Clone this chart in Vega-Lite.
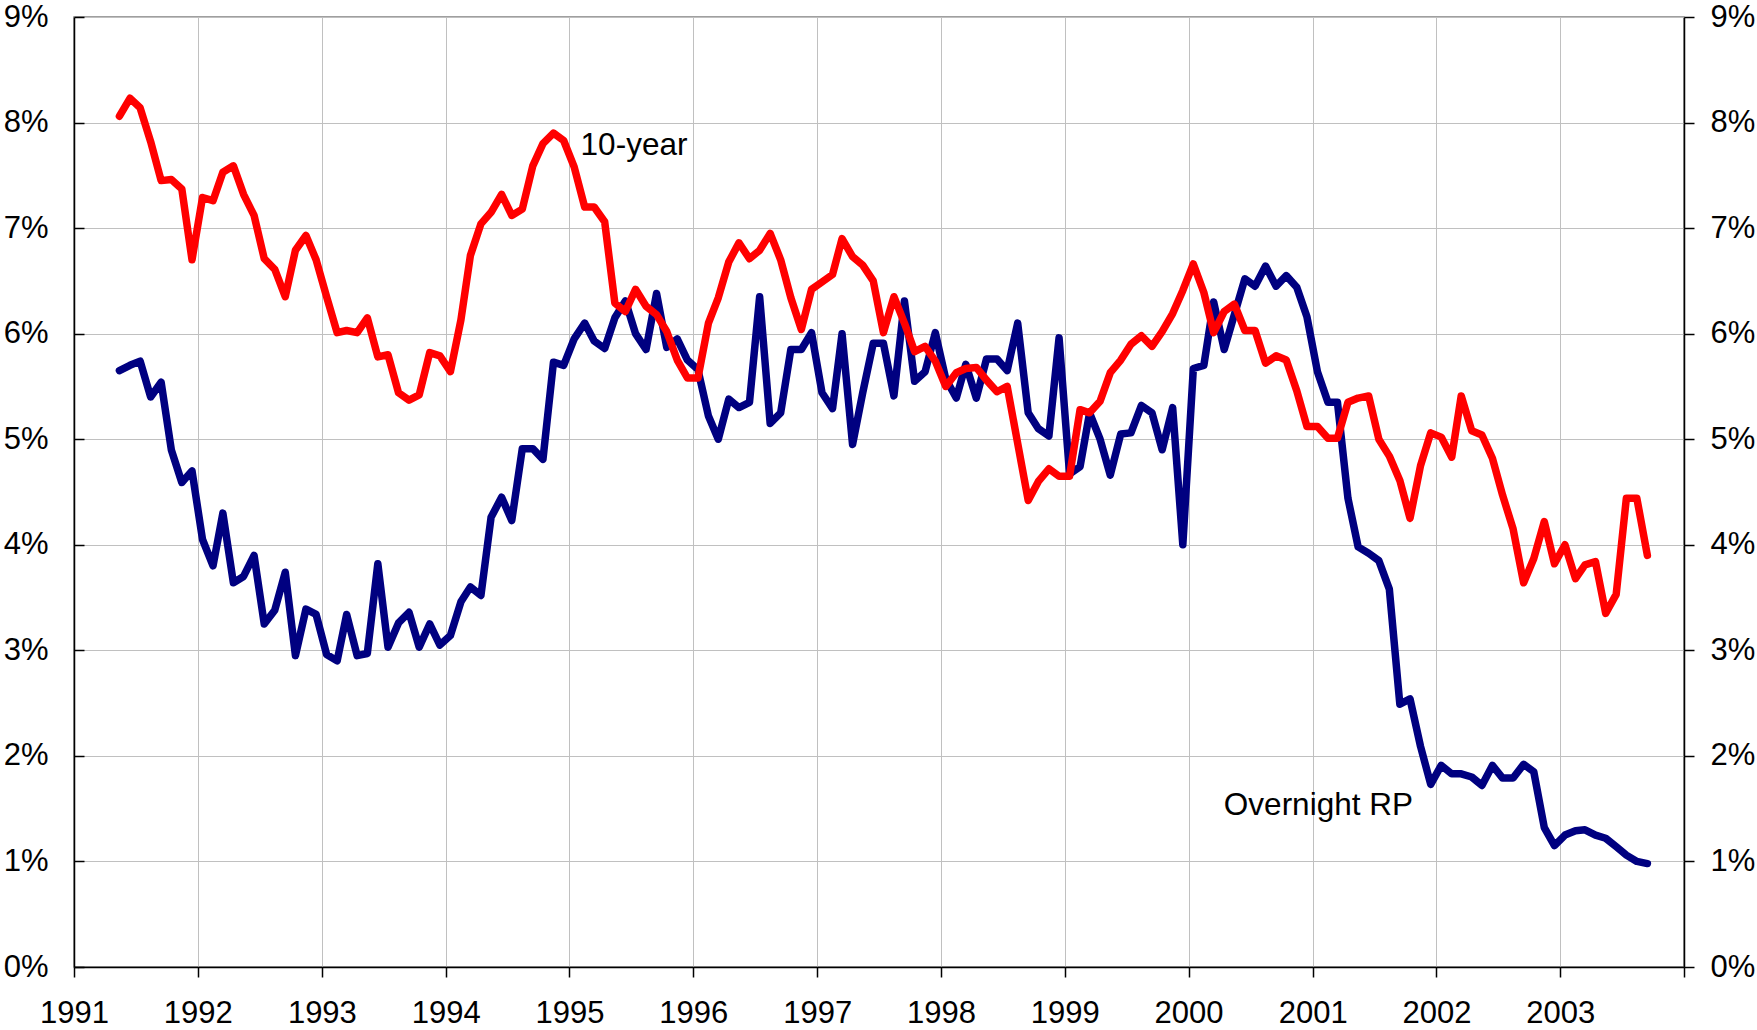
{
  "$schema": "https://vega.github.io/schema/vega-lite/v6.json",
  "width": 1610,
  "height": 950,
  "autosize": {"type": "none"},
  "padding": {"left": 74, "top": 17, "right": 73, "bottom": 63},
  "background": "#ffffff",
  "config": {
    "font": "Liberation Sans",
    "view": {"stroke": "#808080", "strokeWidth": 1.5},
    "axis": {
      "labelFont": "Liberation Sans",
      "labelFontSize": 31,
      "labelColor": "#000000",
      "domainColor": "#000000",
      "domainWidth": 1.5,
      "tickColor": "#000000",
      "tickWidth": 1.5,
      "gridColor": "#C0C0C0",
      "gridWidth": 1,
      "labelFlush": false,
      "labelOverlap": false,
      "title": null
    }
  },
  "datasets": {
    "rates": [
      {"d":"1991-05-15","y10":8.06,"rp":5.65},
      {"d":"1991-06-15","y10":8.23,"rp":5.70},
      {"d":"1991-07-15","y10":8.14,"rp":5.74},
      {"d":"1991-08-15","y10":7.82,"rp":5.40},
      {"d":"1991-09-15","y10":7.45,"rp":5.54},
      {"d":"1991-10-15","y10":7.46,"rp":4.90},
      {"d":"1991-11-15","y10":7.37,"rp":4.59},
      {"d":"1991-12-15","y10":6.70,"rp":4.70},
      {"d":"1992-01-15","y10":7.29,"rp":4.05},
      {"d":"1992-02-15","y10":7.26,"rp":3.80},
      {"d":"1992-03-15","y10":7.53,"rp":4.30},
      {"d":"1992-04-15","y10":7.59,"rp":3.64},
      {"d":"1992-05-15","y10":7.32,"rp":3.70},
      {"d":"1992-06-15","y10":7.12,"rp":3.90},
      {"d":"1992-07-15","y10":6.71,"rp":3.25},
      {"d":"1992-08-15","y10":6.61,"rp":3.38},
      {"d":"1992-09-15","y10":6.35,"rp":3.74},
      {"d":"1992-10-15","y10":6.79,"rp":2.95},
      {"d":"1992-11-15","y10":6.93,"rp":3.39},
      {"d":"1992-12-15","y10":6.70,"rp":3.34},
      {"d":"1993-01-15","y10":6.35,"rp":2.96},
      {"d":"1993-02-15","y10":6.01,"rp":2.90},
      {"d":"1993-03-15","y10":6.03,"rp":3.34},
      {"d":"1993-04-15","y10":6.01,"rp":2.95},
      {"d":"1993-05-15","y10":6.15,"rp":2.97},
      {"d":"1993-06-15","y10":5.78,"rp":3.82},
      {"d":"1993-07-15","y10":5.80,"rp":3.03},
      {"d":"1993-08-15","y10":5.44,"rp":3.26},
      {"d":"1993-09-15","y10":5.37,"rp":3.36},
      {"d":"1993-10-15","y10":5.42,"rp":3.03},
      {"d":"1993-11-15","y10":5.82,"rp":3.25},
      {"d":"1993-12-15","y10":5.79,"rp":3.05},
      {"d":"1994-01-15","y10":5.64,"rp":3.14},
      {"d":"1994-02-15","y10":6.13,"rp":3.46},
      {"d":"1994-03-15","y10":6.74,"rp":3.60},
      {"d":"1994-04-15","y10":7.04,"rp":3.52},
      {"d":"1994-05-15","y10":7.15,"rp":4.26},
      {"d":"1994-06-15","y10":7.32,"rp":4.45},
      {"d":"1994-07-15","y10":7.12,"rp":4.23},
      {"d":"1994-08-15","y10":7.18,"rp":4.91},
      {"d":"1994-09-15","y10":7.59,"rp":4.91},
      {"d":"1994-10-15","y10":7.80,"rp":4.81},
      {"d":"1994-11-15","y10":7.90,"rp":5.73},
      {"d":"1994-12-15","y10":7.83,"rp":5.70},
      {"d":"1995-01-15","y10":7.58,"rp":5.95},
      {"d":"1995-02-15","y10":7.20,"rp":6.10},
      {"d":"1995-03-15","y10":7.20,"rp":5.93},
      {"d":"1995-04-15","y10":7.06,"rp":5.86},
      {"d":"1995-05-15","y10":6.29,"rp":6.15},
      {"d":"1995-06-15","y10":6.21,"rp":6.31},
      {"d":"1995-07-15","y10":6.42,"rp":6.00},
      {"d":"1995-08-15","y10":6.26,"rp":5.85},
      {"d":"1995-09-15","y10":6.18,"rp":6.38},
      {"d":"1995-10-15","y10":6.02,"rp":5.87},
      {"d":"1995-11-15","y10":5.75,"rp":5.95},
      {"d":"1995-12-15","y10":5.58,"rp":5.75},
      {"d":"1996-01-15","y10":5.58,"rp":5.66},
      {"d":"1996-02-15","y10":6.10,"rp":5.22},
      {"d":"1996-03-15","y10":6.34,"rp":5.00},
      {"d":"1996-04-15","y10":6.68,"rp":5.38},
      {"d":"1996-05-15","y10":6.86,"rp":5.30},
      {"d":"1996-06-15","y10":6.71,"rp":5.35},
      {"d":"1996-07-15","y10":6.79,"rp":6.35},
      {"d":"1996-08-15","y10":6.95,"rp":5.15},
      {"d":"1996-09-15","y10":6.70,"rp":5.25},
      {"d":"1996-10-15","y10":6.34,"rp":5.85},
      {"d":"1996-11-15","y10":6.04,"rp":5.85},
      {"d":"1996-12-15","y10":6.42,"rp":6.01},
      {"d":"1997-01-15","y10":6.49,"rp":5.44},
      {"d":"1997-02-15","y10":6.56,"rp":5.29},
      {"d":"1997-03-15","y10":6.90,"rp":6.00},
      {"d":"1997-04-15","y10":6.73,"rp":4.95},
      {"d":"1997-05-15","y10":6.65,"rp":5.44},
      {"d":"1997-06-15","y10":6.50,"rp":5.91},
      {"d":"1997-07-15","y10":6.01,"rp":5.91},
      {"d":"1997-08-15","y10":6.35,"rp":5.41},
      {"d":"1997-09-15","y10":6.10,"rp":6.31},
      {"d":"1997-10-15","y10":5.83,"rp":5.55},
      {"d":"1997-11-15","y10":5.88,"rp":5.64},
      {"d":"1997-12-15","y10":5.74,"rp":6.01},
      {"d":"1998-01-15","y10":5.50,"rp":5.57},
      {"d":"1998-02-15","y10":5.63,"rp":5.39},
      {"d":"1998-03-15","y10":5.67,"rp":5.71},
      {"d":"1998-04-15","y10":5.68,"rp":5.39},
      {"d":"1998-05-15","y10":5.56,"rp":5.76},
      {"d":"1998-06-15","y10":5.45,"rp":5.76},
      {"d":"1998-07-15","y10":5.50,"rp":5.65},
      {"d":"1998-08-15","y10":4.96,"rp":6.10},
      {"d":"1998-09-15","y10":4.42,"rp":5.25},
      {"d":"1998-10-15","y10":4.60,"rp":5.10},
      {"d":"1998-11-15","y10":4.72,"rp":5.03},
      {"d":"1998-12-15","y10":4.65,"rp":5.96},
      {"d":"1999-01-15","y10":4.65,"rp":4.67},
      {"d":"1999-02-15","y10":5.28,"rp":4.74},
      {"d":"1999-03-15","y10":5.25,"rp":5.25},
      {"d":"1999-04-15","y10":5.36,"rp":5.00},
      {"d":"1999-05-15","y10":5.63,"rp":4.66},
      {"d":"1999-06-15","y10":5.75,"rp":5.05},
      {"d":"1999-07-15","y10":5.90,"rp":5.06},
      {"d":"1999-08-15","y10":5.98,"rp":5.32},
      {"d":"1999-09-15","y10":5.88,"rp":5.25},
      {"d":"1999-10-15","y10":6.02,"rp":4.90},
      {"d":"1999-11-15","y10":6.19,"rp":5.30},
      {"d":"1999-12-15","y10":6.41,"rp":4.00},
      {"d":"2000-01-15","y10":6.66,"rp":5.67},
      {"d":"2000-02-15","y10":6.39,"rp":5.70},
      {"d":"2000-03-15","y10":6.01,"rp":6.30},
      {"d":"2000-04-15","y10":6.21,"rp":5.85},
      {"d":"2000-05-15","y10":6.28,"rp":6.18},
      {"d":"2000-06-15","y10":6.03,"rp":6.52},
      {"d":"2000-07-15","y10":6.03,"rp":6.45},
      {"d":"2000-08-15","y10":5.72,"rp":6.64},
      {"d":"2000-09-15","y10":5.79,"rp":6.45},
      {"d":"2000-10-15","y10":5.75,"rp":6.55},
      {"d":"2000-11-15","y10":5.46,"rp":6.44},
      {"d":"2000-12-15","y10":5.12,"rp":6.16},
      {"d":"2001-01-15","y10":5.12,"rp":5.64},
      {"d":"2001-02-15","y10":5.01,"rp":5.35},
      {"d":"2001-03-15","y10":5.01,"rp":5.35},
      {"d":"2001-04-15","y10":5.35,"rp":4.44},
      {"d":"2001-05-15","y10":5.39,"rp":3.98},
      {"d":"2001-06-15","y10":5.41,"rp":3.92},
      {"d":"2001-07-15","y10":5.00,"rp":3.85},
      {"d":"2001-08-15","y10":4.84,"rp":3.58},
      {"d":"2001-09-15","y10":4.61,"rp":2.49},
      {"d":"2001-10-15","y10":4.25,"rp":2.54},
      {"d":"2001-11-15","y10":4.75,"rp":2.09},
      {"d":"2001-12-15","y10":5.06,"rp":1.73},
      {"d":"2002-01-15","y10":5.02,"rp":1.91},
      {"d":"2002-02-15","y10":4.83,"rp":1.83},
      {"d":"2002-03-15","y10":5.41,"rp":1.83},
      {"d":"2002-04-15","y10":5.08,"rp":1.80},
      {"d":"2002-05-15","y10":5.04,"rp":1.72},
      {"d":"2002-06-15","y10":4.82,"rp":1.91},
      {"d":"2002-07-15","y10":4.47,"rp":1.79},
      {"d":"2002-08-15","y10":4.15,"rp":1.79},
      {"d":"2002-09-15","y10":3.64,"rp":1.92},
      {"d":"2002-10-15","y10":3.87,"rp":1.85},
      {"d":"2002-11-15","y10":4.22,"rp":1.32},
      {"d":"2002-12-15","y10":3.82,"rp":1.15},
      {"d":"2003-01-15","y10":4.00,"rp":1.25},
      {"d":"2003-02-15","y10":3.68,"rp":1.29},
      {"d":"2003-03-15","y10":3.81,"rp":1.30},
      {"d":"2003-04-15","y10":3.84,"rp":1.25},
      {"d":"2003-05-15","y10":3.35,"rp":1.22},
      {"d":"2003-06-15","y10":3.53,"rp":1.14},
      {"d":"2003-07-15","y10":4.44,"rp":1.06},
      {"d":"2003-08-15","y10":4.44,"rp":1.00},
      {"d":"2003-09-15","y10":3.90,"rp":0.98}
    ],
    "labels": [
      {"label": "10-year", "d": "1995-02-03", "v": 7.69},
      {"label": "Overnight RP", "d": "2000-04-14", "v": 1.44}
    ]
  },
  "resolve": {"axis": {"y": "independent"}},
  "layer": [
    {
      "data": {"name": "rates"},
      "mark": {"type": "line", "color": "#000080", "strokeWidth": 7.5, "strokeJoin": "round", "strokeCap": "round"},
      "encoding": {
        "x": {
          "field": "d", "type": "temporal",
          "scale": {"type": "utc", "domain": [{"year": 1991, "month": 1, "date": 1, "utc": true}, {"year": 2004, "month": 1, "date": 1, "utc": true}]},
          "axis": {
            "values": [
              {"year": 1991, "utc": true}, {"year": 1992, "utc": true}, {"year": 1993, "utc": true},
              {"year": 1994, "utc": true}, {"year": 1995, "utc": true}, {"year": 1996, "utc": true},
              {"year": 1997, "utc": true}, {"year": 1998, "utc": true}, {"year": 1999, "utc": true},
              {"year": 2000, "utc": true}, {"year": 2001, "utc": true}, {"year": 2002, "utc": true},
              {"year": 2003, "utc": true}, {"year": 2004, "utc": true}
            ],
            "labelExpr": "utcyear(datum.value) == 2004 ? '' : '' + utcyear(datum.value)",
            "grid": true,
            "tickSize": 10,
            "labelPadding": 21,
            "labelAngle": 0
          }
        },
        "y": {
          "field": "rp", "type": "quantitative",
          "scale": {"domain": [0, 9], "nice": false},
          "axis": {
            "orient": "left",
            "values": [0, 1, 2, 3, 4, 5, 6, 7, 8, 9],
            "labelExpr": "datum.value + '%'",
            "grid": true,
            "tickSize": -10,
            "labelPadding": 36
          }
        }
      }
    },
    {
      "data": {"name": "rates"},
      "mark": {"type": "line", "color": "#FF0000", "strokeWidth": 7.5, "strokeJoin": "round", "strokeCap": "round"},
      "encoding": {
        "x": {"field": "d", "type": "temporal"},
        "y": {
          "field": "y10", "type": "quantitative",
          "axis": {
            "orient": "right",
            "values": [0, 1, 2, 3, 4, 5, 6, 7, 8, 9],
            "labelExpr": "datum.value + '%'",
            "grid": false,
            "tickSize": 10,
            "labelPadding": 16
          }
        }
      }
    },
    {
      "data": {"name": "labels"},
      "mark": {"type": "text", "align": "left", "baseline": "alphabetic", "fontSize": 31.5, "font": "Liberation Sans", "color": "#000000"},
      "encoding": {
        "x": {"field": "d", "type": "temporal"},
        "y": {"field": "v", "type": "quantitative", "axis": null},
        "text": {"field": "label"}
      }
    }
  ]
}
